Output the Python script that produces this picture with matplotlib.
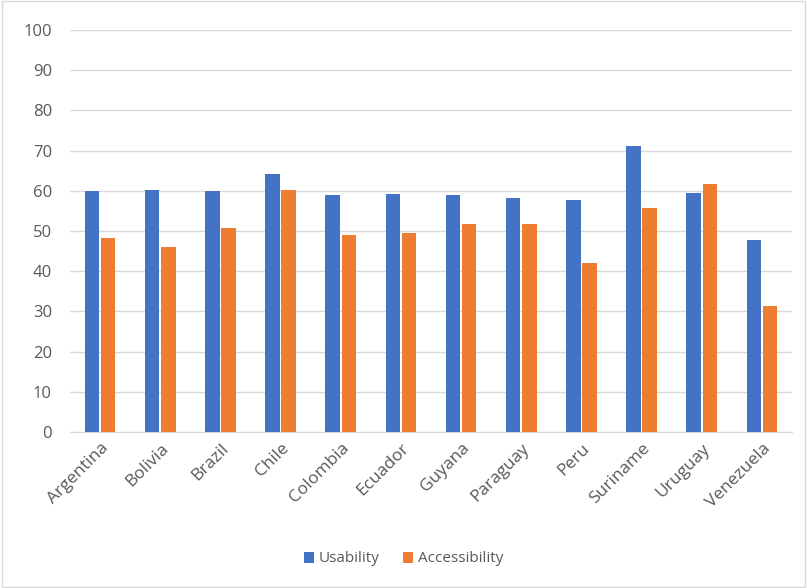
import matplotlib.pyplot as plt
import numpy as np

countries = ['Argentina', 'Bolivia', 'Brazil', 'Chile', 'Colombia', 'Ecuador',
             'Guyana', 'Paraguay', 'Peru', 'Suriname', 'Uruguay', 'Venezuela']
usability = [59.9, 60.2, 59.9, 64.3, 59.0, 59.3, 59.0, 58.2, 57.6, 71.1, 59.5, 47.8]
accessibility = [48.3, 46.1, 50.7, 60.2, 48.9, 49.4, 51.8, 51.8, 42.0, 55.7, 61.8, 31.3]

plt.rcParams['font.family'] = ['Open Sans', 'DejaVu Sans']
text_col = '#595959'

fig = plt.figure(figsize=(8.07, 5.88), dpi=100)
ax = fig.add_axes([70 / 807, 1 - 432 / 588, (792 - 70) / 807, (432 - 30) / 588])

x = np.arange(len(countries))
w = 0.24
ax.bar(x - 0.135, usability, w, color='#4472C4', label='Usability', zorder=3)
ax.bar(x + 0.135, accessibility, w, color='#ED7D31', label='Accessibility', zorder=3)

ax.set_xlim(-0.5, len(countries) - 0.5)
ax.set_ylim(0, 100)
ax.set_yticks(range(0, 101, 10))
ax.yaxis.grid(True, color='#D9D9D9', linewidth=1, zorder=0)
for s in ['top', 'right', 'left']:
    ax.spines[s].set_visible(False)
ax.spines['bottom'].set_color('#D9D9D9')
ax.tick_params(axis='both', length=0, colors=text_col)
ax.tick_params(axis='y', pad=13, labelsize=12)
ax.tick_params(axis='x', pad=6, labelsize=12.5)
ax.set_xticks(x)
ax.set_xticklabels(countries, rotation=45, ha='right', rotation_mode='anchor')

fig.legend(loc='center', bbox_to_anchor=(0.5, 1 - 559 / 588), ncol=2, frameon=False,
           fontsize=11, labelcolor=text_col, handlelength=0.7, handleheight=0.7,
           columnspacing=1.5, handletextpad=0.3)

fig.patches.append(plt.Rectangle((0.002, 0.002), 0.996, 0.996, transform=fig.transFigure,
                                 fill=False, edgecolor='#D9D9D9', linewidth=1))

fig.savefig('out.png', dpi=100)
